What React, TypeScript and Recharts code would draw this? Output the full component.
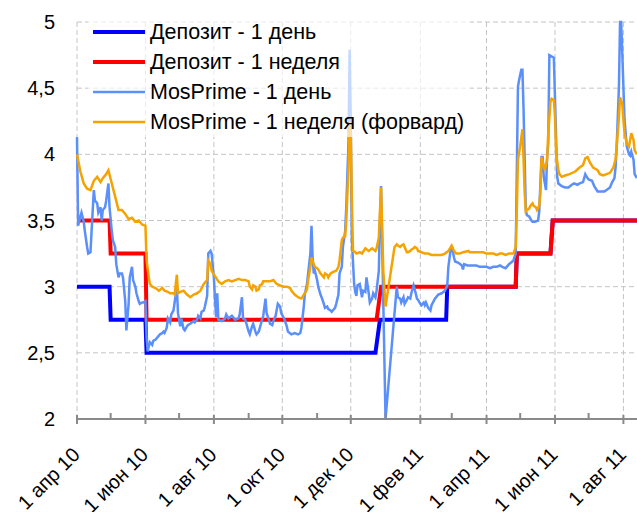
import { LineChart, Line, XAxis, YAxis, CartesianGrid, Legend } from 'recharts'

// x values are days counted from 1 Apr 2010
const depo1dDays = [0, 29, 30, 61, 62, 266, 270, 329, 330, 391, 392, 422, 424, 500]
const depo1dRates = [3, 3, 2.75, 2.75, 2.5, 2.5, 2.75, 2.75, 3, 3, 3.25, 3.25, 3.5, 3.5]

const depo1wDays = [0, 29, 30, 61, 62, 267, 271, 391, 392, 422, 424, 500]
const depo1wRates = [3.5, 3.5, 3.25, 3.25, 2.75, 2.75, 3, 3, 3.25, 3.25, 3.5, 3.5]

const mos1dDays = [
  0, 1, 3, 4, 6, 7, 9, 10, 12, 13, 15, 16, 18, 19, 21, 22, 23, 25, 26, 28, 29, 31, 32, 34, 35, 37, 38, 40, 41, 43,
  44, 46, 47, 49, 50, 52, 53, 55, 56, 58, 59, 61, 62, 63, 64, 65, 67, 68, 70, 71, 73, 74, 76, 77, 78, 80, 81, 83, 84, 86,
  87, 89, 90, 92, 93, 95, 96, 98, 99, 101, 104, 105, 107, 108, 110, 111, 113, 114, 116, 117, 119, 120, 122, 123, 124, 125, 126, 129, 132, 133,
  135, 138, 141, 144, 145, 147, 148, 150, 151, 153, 154, 156, 157, 159, 160, 162, 163, 165, 166, 168, 169, 171, 172, 174, 175, 177, 179, 181, 182, 185,
  187, 188, 191, 194, 197, 199, 200, 202, 203, 205, 206, 208, 209, 210, 211, 212, 214, 215, 217, 218, 220, 221, 223, 224, 226, 227, 228, 230, 231, 233,
  234, 236, 237, 239, 240, 242, 243, 244, 245, 247, 248, 249, 250, 252, 254, 255, 257, 258, 260, 261, 263, 264, 266, 267, 269, 270, 271, 275, 285, 286,
  288, 289, 291, 292, 294, 295, 297, 298, 300, 301, 303, 304, 306, 307, 309, 310, 311, 313, 315, 316, 319, 322, 325, 328, 330, 331, 333, 334, 336, 337,
  340, 343, 344, 345, 348, 350, 353, 356, 359, 362, 365, 368, 371, 374, 377, 379, 382, 385, 388, 389, 391, 393, 394, 396, 397, 398, 399, 400, 401, 403,
  405, 406, 408, 411, 412, 414, 415, 416, 418, 419, 420, 421, 425, 428, 429, 432, 435, 438, 441, 443, 446, 448, 451, 453, 455, 456, 459, 461, 464, 466,
  470, 472, 475, 477, 479, 480, 481, 483, 484, 485, 486, 488, 490, 492, 493, 494, 496, 497, 499,
]
const mos1dRates = [
  4.13, 3.46, 3.53, 3.56, 3.49, 3.42, 3.3, 3.25, 3.26, 3.42, 3.73, 3.65, 3.63, 3.56, 3.6, 3.5, 3.58, 3.6, 3.65, 3.78, 3.6, 3.42, 3.35, 3.3, 3.17, 3.07, 3.1, 3.1, 3.07, 2.89,
  2.67, 2.87, 3.07, 3.15, 3.05, 3.0, 2.95, 2.89, 2.87, 2.88, 2.88, 2.89, 2.62, 2.51, 2.55, 2.58, 2.56, 2.59, 2.6, 2.61, 2.63, 2.64, 2.65, 2.66, 2.65, 2.69, 2.76, 2.73, 2.79, 2.82,
  2.88, 3.0, 2.8, 2.7, 2.76, 2.68, 2.67, 2.7, 2.71, 2.72, 2.74, 2.73, 2.75, 2.78, 2.76, 2.81, 2.82, 2.85, 2.93, 3.25, 3.27, 3.25, 3.07, 2.9, 2.77, 2.95, 2.75, 2.74, 2.76, 2.79,
  2.76, 2.78, 2.75, 2.76, 2.79, 2.92, 2.76, 2.75, 2.72, 2.66, 2.64, 2.7, 2.72, 2.66, 2.64, 2.66, 2.69, 2.75, 2.78, 2.91, 2.8, 2.75, 2.72, 2.71, 2.74, 2.78, 2.87, 2.85, 2.8, 2.75,
  2.7, 2.66, 2.64, 2.65, 2.64, 2.65, 2.69, 2.84, 2.94, 3.02, 3.1, 3.25, 3.46, 3.22, 3.1, 3.12, 3.05, 3.0, 2.94, 2.92, 2.87, 2.84, 2.85, 2.83, 2.82, 2.81, 2.82, 2.84, 2.87, 2.94,
  3.1, 3.15, 3.3, 3.42, 3.6, 4.1, 4.79, 4.23, 3.35, 3.02, 2.96, 2.93, 3.01, 3.02, 2.92, 2.97, 2.96, 3.07, 2.95, 2.88, 2.91, 2.95, 2.92, 2.97, 3.12, 3.5, 3.76, 2.0, 3.0, 2.92,
  2.91, 2.88, 2.92, 2.87, 2.9, 2.92, 2.91, 2.95, 3.01, 2.98, 2.91, 2.9, 2.87, 2.86, 2.88, 2.86, 2.88, 2.84, 2.82, 2.86, 2.91, 2.94, 2.95, 2.97, 3.01, 3.15, 3.28, 3.31, 3.22, 3.19,
  3.18, 3.16, 3.13, 3.17, 3.16, 3.16, 3.16, 3.16, 3.15, 3.15, 3.15, 3.14, 3.15, 3.15, 3.16, 3.15, 3.14, 3.17, 3.19, 3.2, 3.25, 4.51, 4.56, 4.64, 4.64, 4.34, 3.96, 3.58, 3.54, 3.53,
  3.5, 3.49, 3.49, 3.5, 3.57, 3.98, 3.98, 3.83, 3.73, 3.98, 4.08, 4.75, 4.73, 3.83, 3.78, 3.76, 3.75, 3.75, 3.77, 3.78, 3.77, 3.78, 3.79, 3.85, 3.82, 3.81, 3.8, 3.76, 3.72, 3.72,
  3.72, 3.73, 3.75, 3.79, 3.82, 3.9, 4.06, 4.51, 5.0, 5.0, 4.76, 4.26, 4.06, 4.0, 3.99, 4.02, 3.96, 3.85, 3.82,
]

const mos1wDays = [
  0, 3, 6, 9, 12, 15, 18, 21, 23, 26, 28, 31, 34, 37, 40, 43, 46, 49, 52, 55, 58, 61, 62, 64, 65, 67, 70, 73, 76, 78,
  81, 83, 86, 87, 89, 90, 92, 95, 98, 101, 104, 107, 110, 113, 116, 117, 119, 120, 123, 126, 129, 132, 135, 138, 141, 144, 147, 150, 153, 154,
  156, 157, 159, 160, 162, 163, 165, 166, 169, 172, 175, 178, 181, 184, 187, 190, 191, 194, 197, 200, 203, 205, 206, 208, 209, 211, 212, 214, 215, 217,
  218, 220, 221, 223, 224, 226, 228, 231, 233, 234, 236, 237, 239, 240, 242, 243, 244, 245, 246, 248, 249, 252, 254, 257, 260, 263, 266, 267, 269, 270,
  271, 273, 275, 283, 285, 286, 288, 289, 291, 292, 294, 295, 297, 298, 300, 301, 303, 304, 307, 310, 313, 316, 319, 322, 325, 328, 331, 334, 336, 338,
  341, 344, 349, 350, 353, 356, 359, 362, 365, 368, 371, 374, 377, 379, 382, 385, 388, 389, 391, 392, 393, 395, 397, 398, 399, 400, 401, 403, 404, 406,
  407, 409, 410, 412, 413, 414, 416, 417, 419, 420, 422, 423, 425, 426, 427, 429, 430, 432, 435, 439, 444, 448, 451, 453, 455, 457, 460, 464, 466, 469,
  472, 475, 478, 480, 481, 483, 484, 486, 487, 488, 490, 492, 494, 496, 497, 499,
]
const mos1wRates = [
  4.0, 3.87, 3.78, 3.74, 3.73, 3.8, 3.83, 3.79, 3.82, 3.85, 3.88, 3.78, 3.68, 3.58, 3.58, 3.55, 3.51, 3.52, 3.49, 3.5, 3.47, 3.46, 3.2, 3.07, 3.02, 3.0, 2.99, 2.97, 2.99, 2.97,
  2.96, 2.95, 2.95, 2.94, 3.09, 2.95, 2.96, 2.97, 2.94, 2.92, 2.94, 2.95, 2.97, 3.02, 3.05, 3.2, 3.17, 3.12, 3.08, 3.04, 3.02, 3.04, 3.05, 3.04, 3.05, 3.06, 3.05, 3.05, 3.04, 3.0,
  2.98, 3.01, 3.0, 2.97, 2.98, 3.01, 3.02, 3.04, 3.04, 3.04, 3.05, 3.02, 3.01, 3.0, 3.0, 2.99, 2.97, 2.94, 2.92, 2.91, 2.95, 2.98, 3.05, 3.15, 3.22, 3.17, 3.15, 3.14, 3.13, 3.1,
  3.09, 3.07, 3.1, 3.09, 3.07, 3.1, 3.11, 3.12, 3.15, 3.2, 3.35, 3.37, 3.38, 3.5, 3.9, 4.25, 4.16, 3.65, 3.27, 3.26, 3.25, 3.26, 3.25, 3.29, 3.27, 3.29, 3.27, 3.29, 3.37, 3.57,
  3.75, 3.12, 2.85, 3.3, 3.32, 3.31, 3.3, 3.31, 3.32, 3.3, 3.26, 3.26, 3.27, 3.28, 3.29, 3.3, 3.29, 3.27, 3.26, 3.25, 3.25, 3.24, 3.24, 3.24, 3.24, 3.25, 3.27, 3.31, 3.27, 3.25,
  3.25, 3.26, 3.27, 3.26, 3.26, 3.26, 3.26, 3.26, 3.25, 3.25, 3.25, 3.24, 3.25, 3.25, 3.24, 3.25, 3.25, 3.25, 3.3, 3.58, 3.96, 4.06, 4.19, 3.96, 3.71, 3.57, 3.58, 3.59, 3.61, 3.63,
  3.61, 3.6, 3.58, 3.61, 3.71, 3.98, 3.91, 3.88, 3.96, 4.16, 4.4, 4.42, 4.41, 4.29, 4.01, 3.88, 3.85, 3.83, 3.84, 3.85, 3.87, 3.9, 3.92, 3.97, 3.98, 3.94, 3.9, 3.88, 3.85, 3.84,
  3.85, 3.86, 3.9, 3.96, 4.06, 4.28, 4.43, 4.38, 4.26, 4.16, 4.08, 4.06, 4.16, 4.11, 4.03, 4.0,
]

const yTicks = [2, 2.5, 3, 3.5, 4, 4.5, 5]
const tickLabels = ['1 апр 10', '1 июн 10', '1 авг 10', '1 окт 10', '1 дек 10', '1 фев 11', '1 апр 11', '1 июн 11', '1 авг 11']

const START = Date.UTC(2010, 3, 1)
const monthStarts = Array.from({ length: 17 }, (_, i) => Math.round((Date.UTC(2010, 3 + i, 1) - START) / 86400000))
const majorStarts = monthStarts.filter((_, i) => i % 2 === 0)

const toPoints = (days: number[], rates: number[]) => days.map((d, i) => ({ d, v: rates[i] }))

const SERIES = [
  { name: 'Депозит - 1 день', color: '#0000ff', width: 4, data: toPoints(depo1dDays, depo1dRates) },
  { name: 'Депозит - 1 неделя', color: '#ff0000', width: 4, data: toPoints(depo1wDays, depo1wRates) },
  { name: 'MosPrime - 1 день', color: '#5b8ff9', width: 2.5, data: toPoints(mos1dDays, mos1dRates) },
  { name: 'MosPrime - 1 неделя (форвард)', color: '#f5a300', width: 2.5, data: toPoints(mos1wDays, mos1wRates) },
]

function MonthTick(props: any) {
  const { x, y, index } = props
  const major = index % 2 === 0
  const tx = x + 4
  const ty = y + 37
  return (
    <g>
      <line x1={x} x2={x} y1={major ? y - 4 : y - 6} y2={major ? y + 5 : y} stroke="#8a8a8a" strokeWidth={2} />
      {major && (
        <text x={tx} y={ty} transform={`rotate(-45 ${tx} ${ty})`} textAnchor="end" fontSize={20} fill="#000">
          {tickLabels[index / 2]}
        </text>
      )}
    </g>
  )
}

function LegendBox() {
  return (
    <div style={{ background: 'rgba(255,255,255,0.65)', padding: '0 6px 0 4px' }}>
      {SERIES.map((s) => (
        <div key={s.name} style={{ display: 'flex', alignItems: 'center', height: 30 }}>
          <svg width={54} height={10}>
            <line x1={1} x2={53} y1={5} y2={5} stroke={s.color} strokeWidth={s.width} />
          </svg>
          <span style={{ marginLeft: 4, fontSize: 21.5, lineHeight: '30px', whiteSpace: 'nowrap', color: '#000' }}>{s.name}</span>
        </div>
      ))}
    </div>
  )
}

export default function App() {
  return (
    <div style={{ position: 'absolute', left: 0, top: 0, width: 637, height: 512, overflow: 'hidden', background: '#fff', fontFamily: '"Liberation Sans", Arial, sans-serif' }}>
      <LineChart width={640} height={512} margin={{ top: 22, right: 2, bottom: 0, left: 0 }}>
        <CartesianGrid stroke="#c4c4c4" strokeDasharray="5 3" verticalValues={majorStarts} horizontalValues={yTicks} />
        <XAxis
          type="number"
          dataKey="d"
          domain={[0, 500]}
          ticks={monthStarts}
          interval={0}
          height={93}
          tickSize={0}
          tickMargin={0}
          tickLine={false}
          axisLine={{ stroke: '#8a8a8a', strokeWidth: 2 }}
          tick={<MonthTick />}
        />
        <YAxis
          type="number"
          domain={[2, 5]}
          ticks={yTicks}
          width={77}
          tickSize={0}
          tickMargin={22}
          axisLine={false}
          tickLine={false}
          tick={{ fontSize: 20, fill: '#000' }}
          tickFormatter={(v: number) => String(v).replace('.', ',')}
        />
        <Legend
          layout="vertical"
          align="center"
          verticalAlign="middle"
          wrapperStyle={{ left: 88, top: 17, width: 'auto' }}
          content={<LegendBox />}
        />
        {SERIES.map((s) => (
          <Line
            key={s.name}
            data={s.data}
            dataKey="v"
            name={s.name}
            stroke={s.color}
            strokeWidth={s.width}
            dot={false}
            activeDot={false}
            type="linear"
            isAnimationActive={false}
          />
        ))}
      </LineChart>
    </div>
  )
}
